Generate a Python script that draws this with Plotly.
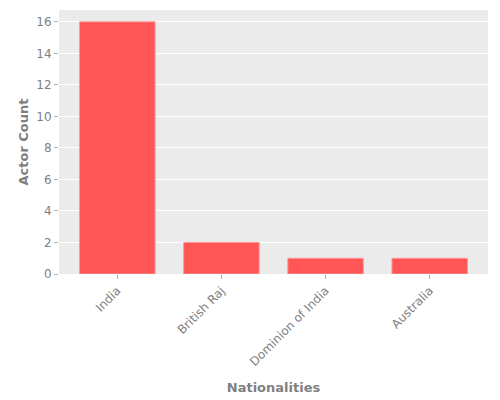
import plotly.graph_objects as go

nationalities = ["India", "British Raj", "Dominion of India", "Australia"]
actor_counts = [16, 2, 1, 1]

fig = go.Figure()
fig.add_trace(go.Bar(
    x=nationalities, y=actor_counts,
    marker=dict(color="#ff5555", line=dict(color="#ff9999", width=1)),
))

axis_font = dict(family="DejaVu Sans", size=12, color="#808080")
title_font = dict(family="DejaVu Sans", size=13, color="#808080")

# the page adds an 8px body margin, so margins are shifted by that amount
fig.update_layout(
    width=500, height=400,
    margin=dict(l=51, r=20, t=2, b=134),
    paper_bgcolor="white", plot_bgcolor="#ebebeb",
    bargap=0.275,
    showlegend=False,
    font=dict(family="DejaVu Sans", color="#808080"),
    xaxis=dict(
        title=dict(text="<b>Nationalities</b>", font=title_font),
        tickfont=axis_font, tickangle=-45, range=[-0.56, 3.56],
        ticks="outside", ticklen=4, tickcolor="#b0b0b0",
        showgrid=False, zeroline=False, automargin=False,
    ),
    yaxis=dict(
        title=dict(text="<b>Actor Count</b>", font=title_font, standoff=4),
        tickfont=axis_font, range=[0, 16.75], dtick=2,
        ticks="outside", ticklen=4, tickcolor="#b0b0b0",
        gridcolor="white", gridwidth=1, zeroline=False, automargin=False,
    ),
)

fig.write_html("out.html")
